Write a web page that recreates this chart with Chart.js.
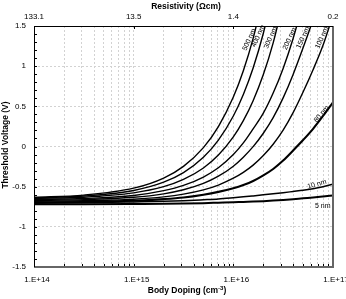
<!DOCTYPE html>
<html><head><meta charset="utf-8">
<script src="https://cdn.jsdelivr.net/npm/chart.js@4.4.0/dist/chart.umd.min.js"></script>
<style>html,body{margin:0;padding:0;background:#fff;}</style>
</head><body>
<canvas id="c" width="346" height="299"></canvas>
<script>
// Body doping (cm^-3)
const doping = [1e14, 3.16e14, 1e15, 2e15, 3.16e15, 5.01e15, 7.08e15, 1e16, 1.26e16, 1.58e16, 2e16, 2.51e16, 3.16e16, 3.98e16, 5.01e16, 6.31e16, 7.94e16, 1e17];
// Threshold voltage (V) per body thickness
const vt500 = [-0.632, -0.605, -0.519, -0.393, -0.247, -0.014, 0.247, 0.615, 0.943, 1.346, 1.875, null, null, null, null, null, null, null];
const vt400 = [-0.640, -0.617, -0.547, -0.444, -0.325, -0.134, 0.079, 0.38, 0.648, 0.977, 1.41, 1.935, null, null, null, null, null, null];
const vt300 = [-0.647, -0.631, -0.577, -0.50, -0.41, -0.267, -0.106, 0.12, 0.322, 0.57, 0.895, 1.29, 1.794, null, null, null, null, null];
const vt200 = [-0.66, -0.648, -0.61, -0.55, -0.485, -0.38, -0.265, -0.10, 0.045, 0.22, 0.415, 0.665, 0.972, 1.345, 1.79, null, null, null];
const vt150 = [-0.671, -0.661, -0.632, -0.589, -0.539, -0.46, -0.37, -0.245, -0.133, -0.002, 0.165, 0.359, 0.605, 0.897, 1.229, 1.58, 1.98, null];
const vt100 = [-0.682, -0.676, -0.656, -0.627, -0.593, -0.54, -0.48, -0.395, -0.322, -0.232, -0.113, 0.028, 0.203, 0.421, 0.678, 0.956, 1.26, 1.635];
const vt80  = [-0.695, -0.69, -0.675, -0.655, -0.635, -0.60, -0.565, -0.52, -0.48, -0.43, -0.36, -0.28, -0.175, -0.05, 0.08, 0.22, 0.38, 0.55];
const vt10  = [-0.705, -0.70, -0.69, -0.683, -0.675, -0.663, -0.653, -0.638, -0.627, -0.615, -0.602, -0.589, -0.575, -0.56, -0.545, -0.525, -0.50, -0.47];
const vt5   = [-0.72, -0.718, -0.715, -0.713, -0.71, -0.705, -0.70, -0.695, -0.69, -0.686, -0.68, -0.673, -0.665, -0.656, -0.645, -0.635, -0.623, -0.61];

const seriesNames = ['500 nm', '400 nm', '300 nm', '200 nm', '150 nm', '100 nm', '80 nm', '10 nm', '5 nm'];
const seriesValues = [vt500, vt400, vt300, vt200, vt150, vt100, vt80, vt10, vt5];

// curve label anchors (doping, voltage) and rotation
const labelDoping = [1.445e16, 1.78e16, 2.37e16, 3.66e16, 5.01e16, 7.75e16, 7.69e16, 6.9e16, 7.9e16];
const labelVolt   = [1.33, 1.375, 1.355, 1.34, 1.355, 1.355, 0.405, -0.47, -0.74];
const labelAngle  = [-66, -66, -66, -66, -66, -66, -50, -15, 0];

const dopingTickLabels = ['1.E+14', '1.E+15', '1.E+16', '1.E+17'];
const resistivityTickLabels = ['133.1', '13.5', '1.4', '0.2'];

const FONT = "'Liberation Sans', Arial, sans-serif";
const lineWidths = [1.4, 1.4, 1.4, 1.4, 1.4, 1.4, 2.1, 1.5, 2];

const datasets = seriesValues.map((vals, i) => ({
  label: seriesNames[i],
  data: doping.map((d, j) => ({x: d, y: vals[j]})),
  borderColor: '#000',
  borderWidth: lineWidths[i],
  pointRadius: 0,
  fill: false,
  spanGaps: false,
  cubicInterpolationMode: 'monotone',
  clip: 0,
  xAxisID: 'x', yAxisID: 'y'
}));

function isMajorLog(v){ const l = Math.log10(v); return Math.abs(l - Math.round(l)) < 1e-6; }
function isMajorY(v){ return Math.abs(v*2 - Math.round(v*2)) < 1e-6; }

const decorPlugin = {
  id: 'decor',
  afterDraw(chart) {
    const ctx = chart.ctx, a = chart.chartArea;
    const xs = chart.scales.x, ys = chart.scales.y, x2 = chart.scales.x2;
    ctx.save();
    // tick marks
    ctx.strokeStyle = '#000'; ctx.lineWidth = 1;
    xs.ticks.forEach(t => {
      const px = Math.round(xs.getPixelForValue(t.value)) + 0.5;
      ctx.beginPath(); ctx.moveTo(px, a.bottom); ctx.lineTo(px, a.bottom - 3); ctx.stroke();
    });
    ys.ticks.forEach(t => {
      const py = Math.round(ys.getPixelForValue(t.value)) + 0.5;
      ctx.beginPath(); ctx.moveTo(a.left, py); ctx.lineTo(a.left + 3, py); ctx.stroke();
    });
    x2.ticks.forEach(t => {
      const px = Math.round(x2.getPixelForValue(t.value)) + 0.5;
      ctx.beginPath(); ctx.moveTo(px, a.top); ctx.lineTo(px, a.top + 3); ctx.stroke();
    });
    // frame
    ctx.strokeStyle = '#666'; ctx.lineWidth = 2;
    ctx.beginPath(); ctx.moveTo(a.left, a.bottom); ctx.lineTo(a.right, a.bottom); ctx.lineTo(a.right, a.top); ctx.stroke();
    ctx.strokeStyle = '#000'; ctx.lineWidth = 1;
    ctx.beginPath(); ctx.moveTo(a.left + 0.5, a.bottom); ctx.lineTo(a.left + 0.5, a.top + 0.5); ctx.lineTo(a.right, a.top + 0.5); ctx.stroke();

    // curve labels
    ctx.fillStyle = '#000';
    ctx.font = "7px " + FONT;
    ctx.textAlign = 'center'; ctx.textBaseline = 'middle';
    seriesNames.forEach((n, i) => {
      const px = xs.getPixelForValue(labelDoping[i]);
      const py = ys.getPixelForValue(labelVolt[i]);
      ctx.save(); ctx.translate(px, py); ctx.rotate(labelAngle[i] * Math.PI / 180);
      ctx.fillText(n, 0, 0); ctx.restore();
    });

    // axis titles
    ctx.font = "bold 8.5px " + FONT;
    ctx.textAlign = 'center'; ctx.textBaseline = 'middle';
    ctx.fillText('Resistivity (\u03A9cm)', 186, 6.5);
    // bottom title with superscript
    const t1 = 'Body Doping (cm', sup = '-3', t2 = ')';
    const w1 = ctx.measureText(t1).width, w3 = ctx.measureText(t2).width;
    ctx.font = "bold 6px " + FONT;
    const w2 = ctx.measureText(sup).width;
    const total = w1 + w2 + w3;
    let sx = 187 - total / 2;
    ctx.textAlign = 'left';
    ctx.font = "bold 8.5px " + FONT;
    ctx.fillText(t1, sx, 291);
    ctx.font = "bold 6px " + FONT;
    ctx.fillText(sup, sx + w1, 288.5);
    ctx.font = "bold 8.5px " + FONT;
    ctx.fillText(t2, sx + w1 + w2, 291);
    // y title
    ctx.save(); ctx.translate(6, 145); ctx.rotate(-Math.PI / 2);
    ctx.textAlign = 'center';
    ctx.fillText('Threshold Voltage (V)', 0, 0);
    ctx.restore();
    ctx.restore();
  }
};

new Chart(document.getElementById('c'), {
  type: 'line',
  data: { datasets },
  options: {
    responsive: false, animation: false, devicePixelRatio: 1,
    layout: { padding: { left: 0, right: 13, top: 0, bottom: 0 } },
    plugins: { legend: { display: false }, tooltip: { enabled: false } },
    scales: {
      x: {
        type: 'logarithmic', position: 'bottom', min: 1e14, max: 1e17,
        afterBuildTicks: s => {
          const t = [];
          for (let e = 14; e < 17; e++) for (let m = 1; m <= 9; m++) t.push({ value: m * Math.pow(10, e) });
          t.push({ value: 1e17 });
          s.ticks = t;
        },
        ticks: {
          autoSkip: false, maxRotation: 0, minRotation: 0, padding: 8, labelOffset: 3, color: '#000',
          font: { family: FONT, size: 8 },
          callback: (v) => isMajorLog(v) ? dopingTickLabels[Math.round(Math.log10(v)) - 14] : ''
        },
        grid: { color: '#d2d2d2', lineWidth: 1, drawTicks: false },
        border: { display: false, dash: [2, 2] },
        afterFit: s => { s.height = 32; s.paddingLeft = 0; s.paddingRight = 0; }
      },
      x2: {
        type: 'logarithmic', position: 'top', min: 1e14, max: 1e17,
        afterBuildTicks: s => { s.ticks = [1e14, 1e15, 1e16, 1e17].map(v => ({ value: v })); },
        ticks: {
          autoSkip: false, maxRotation: 0, minRotation: 0, padding: 4, color: '#000',
          font: { family: FONT, size: 8 },
          callback: (v) => resistivityTickLabels[Math.round(Math.log10(v)) - 14]
        },
        grid: { drawOnChartArea: false, drawTicks: false },
        border: { display: false },
        afterFit: s => { s.height = 26; s.paddingLeft = 0; s.paddingRight = 0; }
      },
      y: {
        type: 'linear', min: -1.5, max: 1.5,
        afterBuildTicks: s => {
          const t = [];
          for (let i = -15; i <= 15; i++) t.push({ value: i / 10 });
          s.ticks = t;
        },
        ticks: {
          autoSkip: false, padding: 8, color: '#000',
          font: { family: FONT, size: 8 },
          callback: (v) => isMajorY(v) ? String(Math.round(v * 10) / 10 + 0) : ''
        },
        grid: {
          drawTicks: false, lineWidth: 1,
          color: (c) => (c.tick && isMajorY(c.tick.value) && Math.abs(c.tick.value) < 1.49) ? '#d2d2d2' : 'rgba(0,0,0,0)'
        },
        border: { display: false, dash: [2, 2] },
        afterFit: s => { s.width = 34; }
      }
    }
  },
  plugins: [decorPlugin]
});
</script>
</body></html>
